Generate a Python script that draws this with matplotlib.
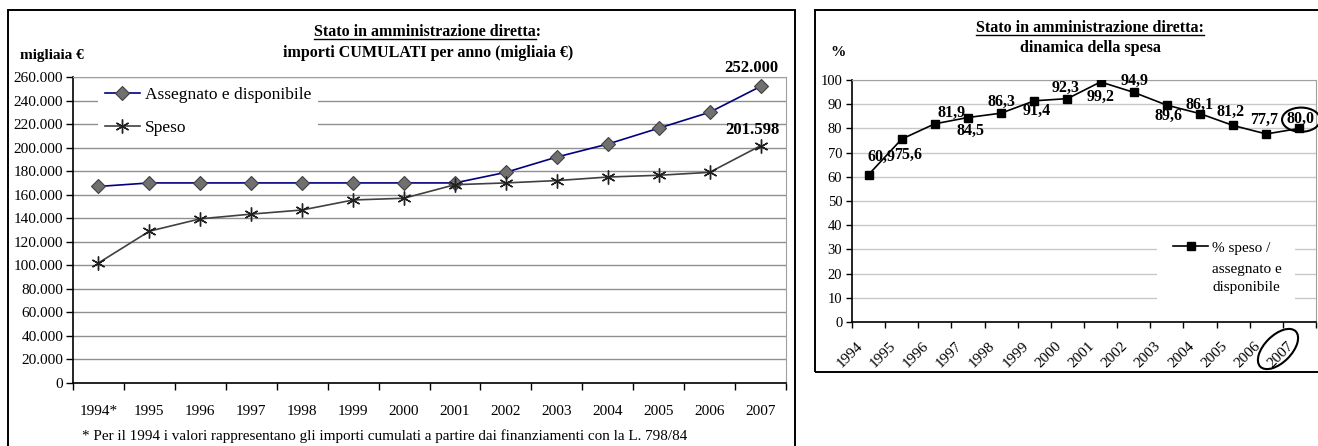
import matplotlib
matplotlib.use("Agg")
import matplotlib.pyplot as plt
from matplotlib.patches import Rectangle, Ellipse
from matplotlib.lines import Line2D
from matplotlib.ticker import FixedLocator, FuncFormatter

plt.rcParams["font.family"] = ["Liberation Serif", "DejaVu Serif"]

# Data
years_left = ["1994*", "1995", "1996", "1997", "1998", "1999", "2000",
              "2001", "2002", "2003", "2004", "2005", "2006", "2007"]
years_right = ["1994", "1995", "1996", "1997", "1998", "1999", "2000",
               "2001", "2002", "2003", "2004", "2005", "2006", "2007"]
assegnato = [167000, 170000, 170000, 170000, 170000, 170000, 170000,
             170000, 179000, 192000, 203000, 216500, 230000, 252000]
speso = [102000, 129000, 139500, 143500, 147000, 155500, 157000,
         168500, 170000, 172000, 175000, 176500, 179000, 201598]
perc_speso = [60.9, 75.6, 81.9, 84.5, 86.3, 91.4, 92.3,
              99.2, 94.9, 89.6, 86.1, 81.2, 77.7, 80.0]

W, H = 1318, 446
fig = plt.figure(figsize=(W / 100, H / 100), dpi=100)


def fx(px):
    return px / W


def fy(py):
    return 1 - py / H


# outer boxes
fig.patches.append(Rectangle((fx(8), fy(460)), fx(795) - fx(8), fy(10) - fy(460),
                             transform=fig.transFigure, fill=False, lw=1.4, ec="black"))
fig.patches.append(Rectangle((fx(815), fy(372)), fx(1330) - fx(815), fy(10) - fy(372),
                             transform=fig.transFigure, fill=False, lw=1.4, ec="black"))

# ---------------- Left chart ----------------
ax1 = fig.add_axes([fx(73), fy(383), fx(786) - fx(73), fy(77) - fy(383)])
x = list(range(len(years_left)))
ax1.plot(x, assegnato, color="#000080", lw=1.2, marker="D", ms=7,
         mfc="#707070", mec="#404040", mew=0.8, label="Assegnato e disponibile", zorder=3)
ax1.plot(x, speso, color="#404040", lw=1.2, marker=(6, 2, 0), ms=10,
         mec="#202020", mew=1.0, label="Speso", zorder=3)
ax1.set_xlim(-0.5, 13.5)
ax1.set_ylim(0, 260000)
ax1.set_yticks(range(0, 260001, 20000))
ax1.yaxis.set_major_formatter(FuncFormatter(lambda v, p: f"{int(v):,}".replace(",", ".")))
ax1.set_xticks(x)
ax1.set_xticklabels(years_left)
ax1.xaxis.set_minor_locator(FixedLocator([i - 0.5 for i in range(15)]))
ax1.tick_params(axis="x", which="major", length=0, pad=16, labelsize=11)
ax1.tick_params(axis="x", which="minor", length=5, width=1, direction="out")
ax1.tick_params(axis="y", length=5, width=1, pad=2, labelsize=11)
ax1.grid(axis="y", color="#909090", lw=1)
ax1.set_axisbelow(True)
for s in ["top", "right"]:
    ax1.spines[s].set_color("#a0a0a0")
ax1.spines["left"].set_linewidth(1.2)
ax1.spines["bottom"].set_linewidth(1.2)
leg1 = ax1.legend(loc="upper left", bbox_to_anchor=(0.035, 0.99), fontsize=12.5,
                  frameon=True, facecolor="white", edgecolor="white", framealpha=1,
                  handlelength=2.0, handletextpad=0.3, labelspacing=0.95,
                  borderpad=0.4, borderaxespad=0, fancybox=False)
leg1.get_frame().set_linewidth(0)

ax1.annotate(f"{assegnato[-1]:,}".replace(",", "."), (x[-1], assegnato[-1]),
             xytext=(-6.5, 13), textcoords="offset points", ha="center", va="center",
             fontsize=12, fontweight="bold", annotation_clip=False)
ax1.annotate(f"{speso[-1]:,}".replace(",", "."), (x[-1], speso[-1]),
             xytext=(-6, 11), textcoords="offset points", ha="center", va="center",
             fontsize=12, fontweight="bold", annotation_clip=False)

fig.text(fx(20), fy(55), "migliaia €", fontsize=11, fontweight="bold", ha="left", va="center")
t1a = fig.text(fx(428), fy(32), "Stato in amministrazione diretta:", fontsize=11.5,
               fontweight="bold", ha="center", va="center")
fig.text(fx(428), fy(53), "importi CUMULATI per anno (migliaia €)", fontsize=11.5,
         fontweight="bold", ha="center", va="center")
fig.text(fx(82), fy(436), "* Per il 1994 i valori rappresentano gli importi cumulati a partire "
         "dai finanziamenti con la L. 798/84", fontsize=10.9, ha="left", va="center")

# ---------------- Right chart ----------------
ax2 = fig.add_axes([fx(852), fy(322), fx(1316) - fx(852), fy(80) - fy(322)])
x2 = list(range(len(years_right)))
ax2.plot(x2, perc_speso, color="black", lw=1.2, marker="s", ms=6,
         label="% speso /", zorder=3)
ax2.set_xlim(-0.5, 13.5)
ax2.set_ylim(0, 100)
ax2.set_yticks(range(0, 101, 10))
# rotated labels sit a little left of each category centre
ax2.set_xticks([xi - 0.24 for xi in x2])
ax2.set_xticklabels(years_right, rotation=45, ha="right", va="center", rotation_mode="anchor")
ax2.xaxis.set_minor_locator(FixedLocator([i - 0.5 for i in range(15)]))
ax2.tick_params(axis="x", which="major", length=0, pad=16, labelsize=11)
ax2.tick_params(axis="x", which="minor", length=4, width=1, direction="out")
ax2.tick_params(axis="y", length=4, width=1, pad=3, labelsize=10.5)
ax2.grid(axis="y", color="#c8c8c8", lw=1)
ax2.set_axisbelow(True)
for s in ["top", "right"]:
    ax2.spines[s].set_color("#a0a0a0")
ax2.spines["left"].set_linewidth(1.2)
ax2.spines["bottom"].set_linewidth(1.2)

# legend area: white box hiding the grid, handle + first line, then the rest
ax2.add_patch(Rectangle((0.657, 0.07), 0.298, 0.285, transform=ax2.transAxes,
                        fc="white", ec="none", zorder=1))
ax2.legend(loc="center left", bbox_to_anchor=(0.692, 0.306), fontsize=11,
           frameon=False, handlelength=2.3, handletextpad=0.25,
           borderpad=0, borderaxespad=0)
ax2.text(0.776, 0.18, "assegnato e\ndisponibile", transform=ax2.transAxes,
         fontsize=11, ha="left", va="center", linespacing=1.45)

# data label offsets (points)
offsets = [(9.5, 13), (4.5, -11.5), (12, 8), (1.5, -9.5), (0, 8), (1.5, -7),
           (-1, 8), (0, -11), (1, 8), (1.5, -8), (0, 6), (-1.5, 9.5), (-1.5, 10), (1, 6.5)]
for xi, v, off in zip(x2, perc_speso, offsets):
    ax2.annotate(f"{v:.1f}".replace(".", ","), (xi, v), xytext=off,
                 textcoords="offset points", ha="center", va="center",
                 fontsize=11.5, fontweight="bold", annotation_clip=False, zorder=4)

# circle around the last value
ax2.add_patch(Ellipse((x2[-1] + 0.05, perc_speso[-1] + 3.6), 1.15, 10,
                      fill=False, ec="black", lw=1.5, clip_on=False, zorder=5))
# circle around 2007 tick label
fig.patches.append(Ellipse((1278 / 100, (H - 349) / 100), 0.5, 0.27, angle=45,
                           transform=fig.dpi_scale_trans, fill=False, ec="black", lw=1.5))

fig.text(fx(838), fy(52), "%", fontsize=11, fontweight="bold", ha="center", va="center")
t2a = fig.text(fx(1090), fy(28), "Stato in amministrazione diretta:", fontsize=11.6,
               fontweight="bold", ha="center", va="center")
fig.text(fx(1090), fy(48), "dinamica della spesa", fontsize=11.6,
         fontweight="bold", ha="center", va="center")

# underline titles
fig.canvas.draw()
r = fig.canvas.get_renderer()
bb = t1a.get_window_extent(r)
tmp = fig.text(0, 0, "Stato in amministrazione diretta", fontsize=11.5, fontweight="bold")
wpart = tmp.get_window_extent(r).width
tmp.remove()
yline = bb.y0 + 1
fig.add_artist(Line2D([bb.x0 / W, (bb.x0 + wpart) / W], [yline / H, yline / H],
                      transform=fig.transFigure, color="black", lw=1))
bb2 = t2a.get_window_extent(r)
y2 = bb2.y0 + 1
fig.add_artist(Line2D([bb2.x0 / W, bb2.x1 / W], [y2 / H, y2 / H],
                      transform=fig.transFigure, color="black", lw=1))

fig.savefig("out.png", dpi=100)
